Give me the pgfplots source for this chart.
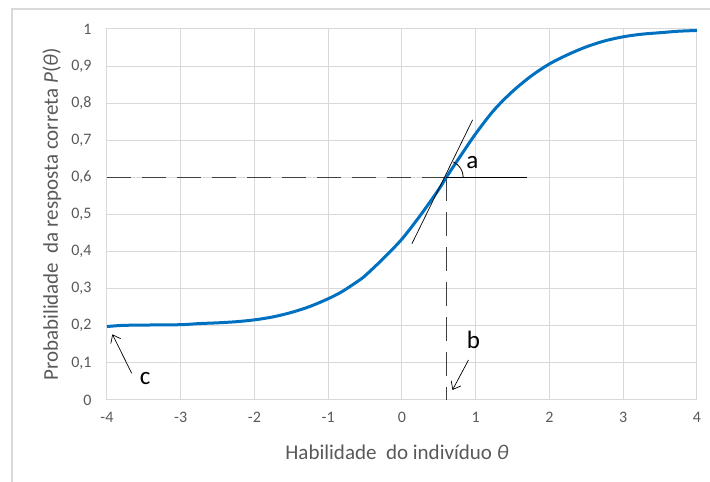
\documentclass[border=0pt]{standalone}
\usepackage{pgfplots}
\pgfplotsset{compat=1.18}
\usepackage{fontspec}
\setmainfont{Carlito}
\usetikzlibrary{arrows.meta}
\definecolor{curveblue}{RGB}{0,112,192}
\definecolor{gridgray}{RGB}{217,217,217}
\definecolor{labelgray}{RGB}{89,89,89}
\definecolor{guide}{RGB}{64,64,64}

\begin{document}
\begin{tikzpicture}
\useasboundingbox (-107pt,-82pt) rectangle (603pt,400pt);
% outer frame (left and top edges)
\draw[gridgray, line width=1.5pt] (-95pt,-82pt) -- (-95pt,391pt) -- (603pt,391pt);
\begin{axis}[
  scale only axis,
  width=590pt, height=371pt,
  xmin=-4, xmax=4, ymin=0, ymax=1,
  xtick={-4,-3,-2,-1,0,1,2,3,4},
  xticklabels={-4,-3,-2,-1,0,1,2,3,4},
  ytick={0,0.1,0.2,0.3,0.4,0.5,0.6,0.7,0.8,0.9,1},
  yticklabels={0,{0,1},{0,2},{0,3},{0,4},{0,5},{0,6},{0,7},{0,8},{0,9},1},
  grid=major,
  major grid style={gridgray, line width=1pt},
  axis line style={gridgray, line width=1pt},
  tick style={draw=none},
  ticklabel style={font=\fontsize{16}{18}\selectfont, text=labelgray},
  xticklabel style={yshift=-9pt},
  yticklabel style={xshift=-12pt},
  label style={font=\fontsize{21}{24}\selectfont, text=labelgray},
  xlabel={Habilidade\ \ do indivíduo \textit{θ}},
  ylabel={Probabilidade\ \ da resposta correta \textit{P}(\textit{θ})},
  xlabel style={at={(axis description cs:0.5,0)}, anchor=center, yshift=-52pt, xshift=-5pt},
  ylabel style={at={(axis description cs:0,0.5)}, anchor=center, yshift=55pt},
  clip=false,
]
% guide lines at the item difficulty b
\draw[guide, line width=1.4pt, dash pattern=on 24pt off 11pt] (axis cs:-4,0.6) -- (axis cs:0.6,0.6);
\draw[guide, line width=1.4pt, dash pattern=on 24pt off 11pt] (axis cs:0.6,0.6) -- (axis cs:0.6,0);

% item characteristic curve
\addplot[curveblue, line width=3pt, smooth, tension=0.5] coordinates {
  (-4,0.198) (-3.8,0.201) (-3.5,0.202) (-3,0.203) (-2.75,0.206) (-2.5,0.208)
  (-2.25,0.211) (-2,0.216) (-1.75,0.224) (-1.5,0.236) (-1.25,0.252) (-1,0.273)
  (-0.85,0.288) (-0.75,0.3) (-0.6,0.32) (-0.5,0.335) (-0.25,0.382) (0,0.434)
  (0.25,0.498) (0.5,0.568) (0.6,0.6) (0.75,0.645) (1,0.718) (1.25,0.782)
  (1.5,0.832) (1.75,0.873) (2,0.906) (2.25,0.931) (2.5,0.952) (2.75,0.968)
  (3,0.979) (3.25,0.986) (3.5,0.99) (3.75,0.994) (4,0.996)
};

% slope (a): tangent, horizontal reference and angle arc
\draw[black, line width=1pt] (axis cs:0.6,0.6) -- (axis cs:1.7,0.6);
\draw[black, line width=0.7pt] (axis cs:0.134,0.421) -- (axis cs:0.957,0.755);
\draw[black, line width=0.8pt] ([shift={(0:17pt)}]axis cs:0.6,0.6) arc[start angle=0, end angle=65, radius=17pt];
\node[font=\fontsize{25}{26}\selectfont] at (axis cs:0.955,0.64) {a};

% difficulty (b)
\draw[black, line width=0.7pt, -{Straight Barb[length=7pt,width=11pt]}] (axis cs:0.902,0.108) -- (axis cs:0.685,0.027);
\node[font=\fontsize{25}{26}\selectfont] at (axis cs:0.97,0.162) {b};

% lower asymptote (c)
\draw[black, line width=0.7pt, -{Straight Barb[length=7pt,width=11pt]}] (axis cs:-3.665,0.072) -- (axis cs:-3.927,0.177);
\node[font=\fontsize{25}{26}\selectfont] at (axis cs:-3.484,0.058) {c};
\end{axis}
\end{tikzpicture}
\end{document}
